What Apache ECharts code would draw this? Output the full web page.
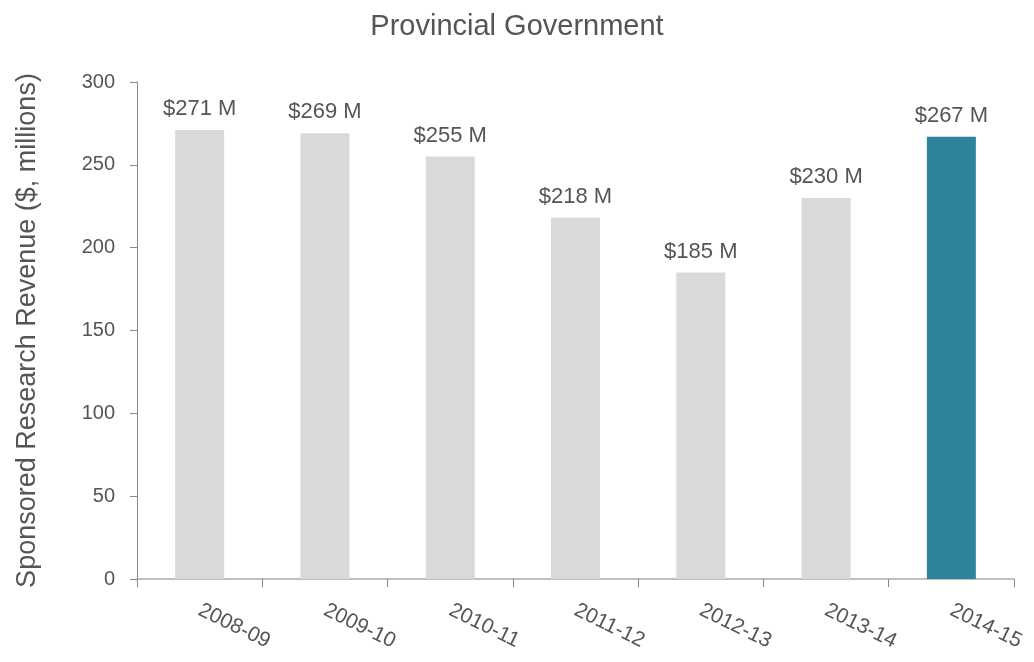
<!DOCTYPE html>
<html>
<head>
<meta charset="utf-8">
<script src="https://cdn.jsdelivr.net/npm/echarts@6/dist/echarts.min.js"></script>
<style>
  html,body{margin:0;padding:0;background:#fff;}
  #chart{width:1034px;height:662px;}
</style>
</head>
<body>
<div id="chart"></div>
<script>
// data
var years=["2008-09","2009-10","2010-11","2011-12","2012-13","2013-14","2014-15"];
var revenue=[271,269,255,218,185,230,267];
var highlightIndex=6; // the current year is shown in teal

var FONT='"Liberation Sans", Arial, sans-serif';
var TEXT_COLOR='#555';

var chart=echarts.init(document.getElementById("chart"));

var barData=[];
for(var i=0;i<revenue.length;i++){
    barData.push({
        value:revenue[i],
        itemStyle:{color: i==highlightIndex ? '#2f849c' : '#d9d9d9'}
    });
}

var option={
    backgroundColor:'#fff',
    animation:false,
    title:{
        text:'Provincial Government',
        left:'center',
        top:7,
        textStyle:{fontFamily:FONT,fontSize:29,fontWeight:'normal',color:TEXT_COLOR}
    },
    grid:{left:137,right:20,top:82,bottom:83},
    xAxis:{
        type:'category',
        data:years,
        axisLine:{lineStyle:{color:'#aaa',width:1.5}},
        axisTick:{show:true,alignWithLabel:false,length:8,lineStyle:{color:'#888'}},
        axisLabel:{
            rotate:-26,
            margin:30,
            fontFamily:FONT,
            fontSize:21,
            color:TEXT_COLOR
        }
    },
    yAxis:{
        type:'value',
        min:0,
        max:300,
        interval:50,
        name:'Sponsored Research Revenue ($, millions)',
        nameLocation:'middle',
        nameGap:96,
        nameTextStyle:{fontFamily:FONT,fontSize:27,color:TEXT_COLOR},
        axisLine:{show:true,lineStyle:{color:'#888'}},
        axisTick:{show:true,length:7,lineStyle:{color:'#888'}},
        splitLine:{show:false},
        axisLabel:{fontFamily:FONT,fontSize:20,color:TEXT_COLOR,margin:22}
    },
    series:[
        {
            type:'bar',
            data:barData,
            barWidth:49,
            label:{
                show:true,
                position:'top',
                distance:10,
                fontFamily:FONT,
                fontSize:22,
                color:TEXT_COLOR,
                formatter:function(p){return '$'+p.value+' M';}
            }
        }
    ]
};
chart.setOption(option);
</script>
</body>
</html>
